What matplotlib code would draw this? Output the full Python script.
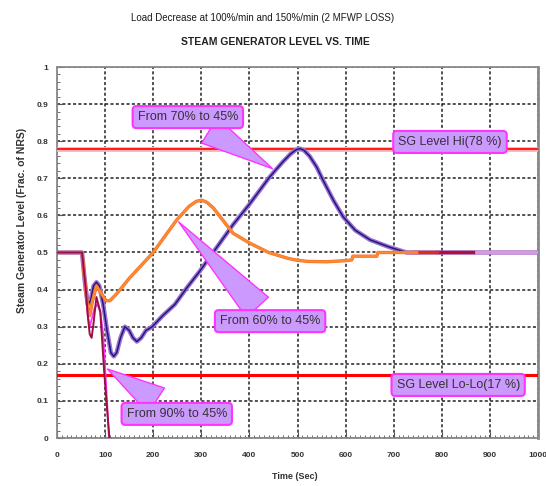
"""Steam generator level vs. time after load decrease (matplotlib)."""

import matplotlib

matplotlib.use("Agg")
import matplotlib.pyplot as plt
import matplotlib.patheffects as pe
from matplotlib import font_manager
from matplotlib.ticker import MultipleLocator

# 70% -> 45% case
t_70 = [0, 52, 58, 64, 70, 76, 82, 88, 96, 104, 112, 118, 124, 132, 141, 150,
        158, 166, 175, 185, 198, 220, 245, 270, 297, 330, 366, 400, 420, 440,
        453, 470, 485, 497, 505, 513, 525, 540, 553, 575, 595, 620, 651, 690,
        727, 760, 800, 1000]
v_70 = [0.50, 0.50, 0.42, 0.36, 0.37, 0.41, 0.42, 0.41, 0.36, 0.29, 0.23,
        0.22, 0.23, 0.27, 0.30, 0.29, 0.27, 0.26, 0.27, 0.29, 0.30, 0.33,
        0.36, 0.405, 0.45, 0.51, 0.575, 0.63, 0.665, 0.70, 0.72, 0.745, 0.765,
        0.777, 0.78, 0.776, 0.76, 0.73, 0.695, 0.64, 0.596, 0.56, 0.534,
        0.515, 0.50, 0.50, 0.50, 0.50]

# 60% -> 45% case
t_60 = [0, 52, 58, 64, 68, 74, 82, 92, 102, 110, 125, 150, 175, 200, 225,
        249, 275, 290, 301, 312, 325, 340, 366, 401, 440, 478, 495, 520, 560,
        600, 613, 615, 665, 667, 748]
v_60 = [0.50, 0.50, 0.42, 0.35, 0.33, 0.37, 0.41, 0.39, 0.37, 0.37, 0.39,
        0.43, 0.465, 0.50, 0.545, 0.588, 0.625, 0.638, 0.641, 0.635, 0.62,
        0.595, 0.552, 0.525, 0.50, 0.485, 0.48, 0.476, 0.475, 0.478, 0.48,
        0.49, 0.49, 0.50, 0.50]

# 90% -> 45% case, two ramp rates
t_90a = [0, 52, 58, 64, 68, 72, 78, 84, 90, 96, 100, 104, 108]
v_90a = [0.50, 0.50, 0.42, 0.33, 0.30, 0.32, 0.35, 0.36, 0.34, 0.28, 0.19,
         0.10, 0.0]
t_90b = [0, 52, 56, 60, 64, 68, 72, 76, 82, 90, 98, 104, 109]
v_90b = [0.50, 0.50, 0.45, 0.40, 0.33, 0.28, 0.27, 0.31, 0.38, 0.34, 0.18,
         0.08, 0.0]

# settled tails at 50% seen past the transients
t_tail_red = [740, 790]
t_tail_crimson = [790, 865]
t_tail_plum = [865, 1000]
v_tail = [0.50, 0.50]

sg_hi = 0.78
sg_lolo = 0.17

x_ticks = list(range(0, 1001, 100))
y_ticks = [0, 0.1, 0.2, 0.3, 0.4, 0.5, 0.6, 0.7, 0.8, 0.9, 1]
y_labels = ["0", "0.1", "0.2", "0.3", "0.4", "0.5", "0.6", "0.7", "0.8",
            "0.9", "1"]

FONT = "Liberation Sans"
installed = {f.name for f in font_manager.fontManager.ttflist}
NARROW = "Liberation Sans Narrow" if "Liberation Sans Narrow" in installed else FONT
TICK_SIZE = 7.5 if NARROW != FONT else 6
BOX_FC = "#cc99ff"
BOX_EC = "#ff33ff"

fig = plt.figure(figsize=(5.46, 4.86), dpi=100)
ax = fig.add_axes([57 / 546, 48 / 486, 481 / 546, 371 / 486])
ax.set_xlim(0, 1000)
ax.set_ylim(0, 1)

ax.set_xticks(x_ticks)
ax.set_yticks(y_ticks)
ax.set_yticklabels(y_labels)
ax.xaxis.set_minor_locator(MultipleLocator(10))
ax.yaxis.set_minor_locator(MultipleLocator(0.02))
ax.tick_params(which="both", direction="in", colors="#555555",
               labelcolor="#333333", labelsize=TICK_SIZE)
ax.tick_params(which="major", length=4)
ax.tick_params(which="minor", length=2)
for lbl in ax.get_xticklabels() + ax.get_yticklabels():
    lbl.set_fontfamily(NARROW)
    lbl.set_fontweight("bold")
ax.tick_params(axis="x", pad=10)
ax.tick_params(axis="y", pad=6)

for side in ax.spines:
    ax.spines[side].set_color("#8a8a8a")
    ax.spines[side].set_linewidth(1.3)
ax.spines["right"].set_linewidth(2)

ax.grid(True, which="major", color="#222222", lw=1.1, ls=(0, (2, 1.5)))
ax.set_axisbelow(True)

# Limit lines
ax.axhline(sg_hi, color="red", lw=1.2, zorder=3,
           path_effects=[pe.withStroke(linewidth=3.5, foreground="#ffb3b3")])
ax.axhline(sg_lolo, color="red", lw=2.2, zorder=3)

ax.plot(t_70, v_70, color="#1a1a80", lw=1.1, zorder=4,
        path_effects=[pe.withStroke(linewidth=3.2, foreground="#a070d0")])
ax.plot(t_tail_plum, v_tail, color="#d99ad9", lw=2.4, zorder=5)
ax.plot(t_tail_crimson, v_tail, color="#b0103e", lw=2.4, zorder=5)
ax.plot(t_tail_red, v_tail, color="#d83010", lw=2.4, zorder=5)
ax.plot(t_60, v_60, color="#ff8833", lw=1.6, zorder=6,
        path_effects=[pe.withStroke(linewidth=2.4, foreground="#f07020")])
ax.plot(t_90a, v_90a, color="#ff33ff", lw=1.3, zorder=7)
ax.plot(t_90b, v_90b, color="#9a1040", lw=1.4, zorder=7)

box = dict(boxstyle="round,pad=0.4,rounding_size=0.3", fc=BOX_FC,
           ec=BOX_EC, lw=1.5)
text_kw = dict(fontsize=9, family=FONT, color="#333333", ha="center",
               va="center", zorder=9)


def wedge():
    return dict(arrowstyle="wedge,tail_width=2.4,shrink_factor=0.5",
                fc=BOX_FC, ec=BOX_EC, lw=1)


ax.annotate("From 70% to 45%", xy=(453, 0.722), xytext=(272, 0.865),
            bbox=box, arrowprops=wedge(), **text_kw)
ax.annotate("From 60% to 45%", xy=(249, 0.588), xytext=(443, 0.315),
            bbox=box, arrowprops=wedge(), **text_kw)
ax.annotate("From 90% to 45%", xy=(100, 0.19), xytext=(249, 0.065),
            bbox=box, arrowprops=wedge(), **text_kw)
ax.text(817, 0.798, "SG Level Hi(78 %)", bbox=box, **text_kw)
ax.text(834, 0.143, "SG Level Lo-Lo(17 %)", bbox=box, **text_kw)

fig.text(0.48, 1 - 18 / 486,
         "Load Decrease at 100%/min and 150%/min (2 MFWP LOSS)",
         ha="center", va="center", fontsize=7, family=FONT,
         color="#1a1a1a")
fig.text(0.505, 1 - 42 / 486, "STEAM GENERATOR LEVEL VS. TIME",
         ha="center", va="center", fontsize=7.5, family=FONT,
         fontweight="bold", color="#222222")
fig.text(22 / 546, 1 - 220 / 486, "Steam Generator Level (Frac. of NRS)",
         rotation=90, ha="center", va="center", fontsize=7.5, family=FONT,
         fontweight="bold", color="#333333")
fig.text(295 / 546, 1 - 476 / 486, "Time (Sec)", ha="center", va="center",
         fontsize=6.5, family=FONT, fontweight="bold", color="#333333")

fig.savefig("out.png", dpi=100)
